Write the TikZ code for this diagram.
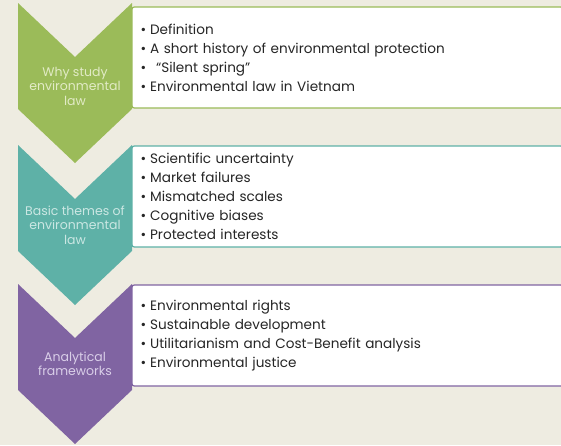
\documentclass[tikz,border=0pt]{standalone}
\usepackage{fontspec}
\setmainfont{Poppins}
\usetikzlibrary{positioning}
\definecolor{bg}{HTML}{EEECE1}
\definecolor{grn}{HTML}{9BBB59}
\definecolor{tea}{HTML}{5EB1A7}
\definecolor{pur}{HTML}{8064A2}
\definecolor{grnlt}{HTML}{E2EBC6}
\definecolor{tealt}{HTML}{CBE7E3}
\definecolor{purlt}{HTML}{D9CEE8}
\definecolor{txt}{HTML}{262626}
\tikzstyle{listbox} = [draw,line width=1.2pt,rectangle,rounded corners=.08cm,fill=white,outer sep=0,minimum width=428,minimum height=101,text width=414,inner xsep=8.5,align=left,anchor=north west,text=txt,font=\fontsize{13.6}{19}\selectfont]
\tikzstyle{chevtext} = [align=center,font=\fontsize{12.5}{14.5}\selectfont]
\def \chevh {160}
\def \bul {\textbullet\hspace{4pt}}
\newcommand{\chevron}[2]{\fill[#1] (18,#2) -- (75,#2+54) -- (132,#2) -- (132,#2+106) -- (75,#2+\chevh) -- (18,#2+106) -- cycle;}

\begin{document}
\begin{tikzpicture}[x=1pt,y=-1pt]
      \fill[bg] (0,0) rectangle (561,445);
      \useasboundingbox (0,0) rectangle (561,445);
      \chevron{grn}{3}
      \chevron{tea}{145}
      \chevron{pur}{284}
      \node[chevtext,text=grnlt] (why) at (75,86) {Why study\\environmental\\law};
      \node[chevtext,text=tealt] (basic) at (75,225) {Basic themes of\\environmental\\law};
      \node[chevtext,text=purlt] (frame) at (75,364) {Analytical\\frameworks};
      \node[listbox,draw=grn] (list1) at (132,7) {\bul Definition\\\bul A short history of environmental protection\\\bul\hspace{6pt}“Silent spring"\\\bul Environmental law in Vietnam};
      \node[listbox,draw=tea] (list2) at (132,146) {\bul Scientific uncertainty\\\bul Market failures\\\bul Mismatched scales\\\bul Cognitive biases\\\bul Protected interests};
      \node[listbox,draw=pur] (list3) at (132,285) {\bul Environmental rights\\\bul Sustainable development\\\bul Utilitarianism and Cost-Benefit analysis\\\bul Environmental justice};
    \end{tikzpicture}
\end{document}
